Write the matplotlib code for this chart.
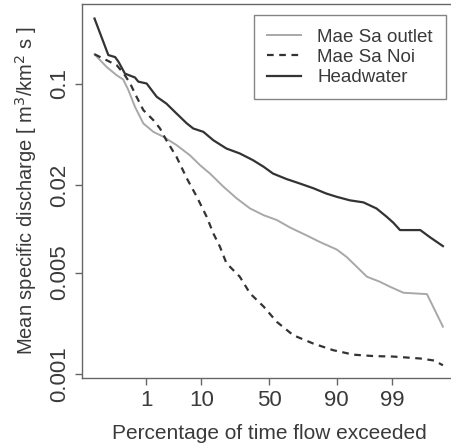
import numpy as np
import matplotlib
matplotlib.use("Agg")
import matplotlib.pyplot as plt
from statistics import NormalDist

## Data (exceedance %, specific discharge)
head_p = [0.048, 0.118, 0.18, 0.22, 0.32, 0.56, 0.67, 1.03, 1.32, 1.68, 2.6, 4.0, 6.0,
          7.6, 10.7, 14.6, 21, 29, 38, 46, 53, 63, 72, 80, 86, 90, 93.7, 96.3, 97.9,
          98.7, 99.07, 99.34, 99.79, 99.88, 99.95]
head_q = [0.280, 0.157, 0.152, 0.141, 0.117, 0.110, 0.103, 0.100, 0.090, 0.081, 0.0728,
          0.0622, 0.0531, 0.0490, 0.0465, 0.0407, 0.0357, 0.0330, 0.0297, 0.0267, 0.0240,
          0.0220, 0.0205, 0.0190, 0.0175, 0.0166, 0.0157, 0.0152, 0.0138, 0.0121, 0.0110,
          0.0098, 0.0098, 0.0088, 0.0076]

outlet_p = [0.048, 0.106, 0.197, 0.29, 0.39, 0.56, 0.87, 1.43, 2.28, 4.0, 6.7, 9.6, 13.2,
            19.4, 27, 36, 46, 55.8, 65.5, 76.2, 83.3, 90, 92.9, 95.1, 96.8, 98.2, 98.9,
            99.45, 99.86, 99.95]
outlet_q = [0.159, 0.130, 0.114, 0.1066, 0.090, 0.0691, 0.0531, 0.0465, 0.0430, 0.0377,
            0.0321, 0.0274, 0.0240, 0.0195, 0.0162, 0.0138, 0.0124, 0.0115, 0.0102, 0.0090,
            0.0081, 0.0072, 0.0064, 0.0055, 0.00468, 0.00432, 0.00399, 0.00363, 0.00355,
            0.00212]

noi_p = [0.048, 0.13, 0.197, 0.30, 0.43, 0.61, 0.87, 1.43, 1.96, 2.6, 4.0, 6.0, 8.6, 11.9,
         14.6, 17.7, 21, 29, 36, 46, 55.8, 67.7, 80, 88.8, 94.5, 97.6, 99.07, 99.79,
         99.91, 99.95]
noi_q = [0.159, 0.141, 0.1337, 0.117, 0.100, 0.081, 0.0656, 0.0560, 0.0490, 0.0407, 0.0313,
         0.0222, 0.0166, 0.0121, 0.0093, 0.0075, 0.0058, 0.00468, 0.00359, 0.00291,
         0.00229, 0.00185, 0.00162, 0.00146, 0.00136, 0.00133, 0.00132, 0.00128, 0.00124,
         0.00115]

x_ticks = [1, 10, 50, 90, 99]
y_ticks = [0.001, 0.005, 0.02, 0.1]
y_ticklabels = ["0.001", "0.005", "0.02", "0.1"]

## Normal probability scale for the x axis
nd = NormalDist()
_ppf = np.vectorize(nd.inv_cdf, otypes=[float])
_cdf = np.vectorize(nd.cdf, otypes=[float])

def probit(p):
    p = np.clip(np.asarray(p, dtype=float) / 100.0, 1e-12, 1 - 1e-12)
    return _ppf(p)

def inv_probit(z):
    return 100.0 * _cdf(np.asarray(z, dtype=float))

plt.rcParams["font.family"] = ["Liberation Sans", "DejaVu Sans"]
txt = "#3a3a3a"
edge = "#666666"

fig = plt.figure(figsize=(4.51, 4.47), dpi=100)
ax = fig.add_axes([0.1825, 0.155, 0.828, 0.835])
ax.set_xscale("function", functions=(probit, inv_probit))
ax.set_yscale("log")

ax.plot(outlet_p, outlet_q, color="#a8a8a8", lw=1.4, label="Mae Sa outlet")
ax.plot(noi_p, noi_q, color="#333333", lw=1.6, dashes=(3, 2.5), label="Mae Sa Noi")
ax.plot(head_p, head_q, color="#333333", lw=1.6, label="Headwater")

ax.set_xlim(inv_probit(-3.533), inv_probit(3.533))
ax.set_ylim(0.000944, 0.350)

ax.set_xticks(x_ticks)
ax.set_xticklabels([str(t) for t in x_ticks])
ax.set_yticks(y_ticks)
ax.set_yticklabels(y_ticklabels, rotation=90, va="center")
ax.minorticks_off()
ax.tick_params(axis="both", length=5, width=1, color=edge, labelcolor=txt,
               labelsize=16, pad=4)

for s in ax.spines.values():
    s.set_color(edge)
    s.set_linewidth(1)

ax.set_xlabel("Percentage of time flow exceeded", fontsize=15, color=txt, labelpad=9)
ax.set_ylabel("Mean specific discharge [ m$^3$/km$^2$ s ]", fontsize=14.5, color=txt,
              labelpad=7)

leg = ax.legend(loc="upper right", bbox_to_anchor=(0.974, 0.971), borderaxespad=0,
                fontsize=13.5, fancybox=False, frameon=True, handlelength=1.8,
                handletextpad=0.9, labelspacing=0.17, borderpad=0.7)
leg.get_frame().set_edgecolor(edge)
leg.get_frame().set_linewidth(1)
for t in leg.get_texts():
    t.set_color(txt)

plt.savefig("out.png", dpi=100)
